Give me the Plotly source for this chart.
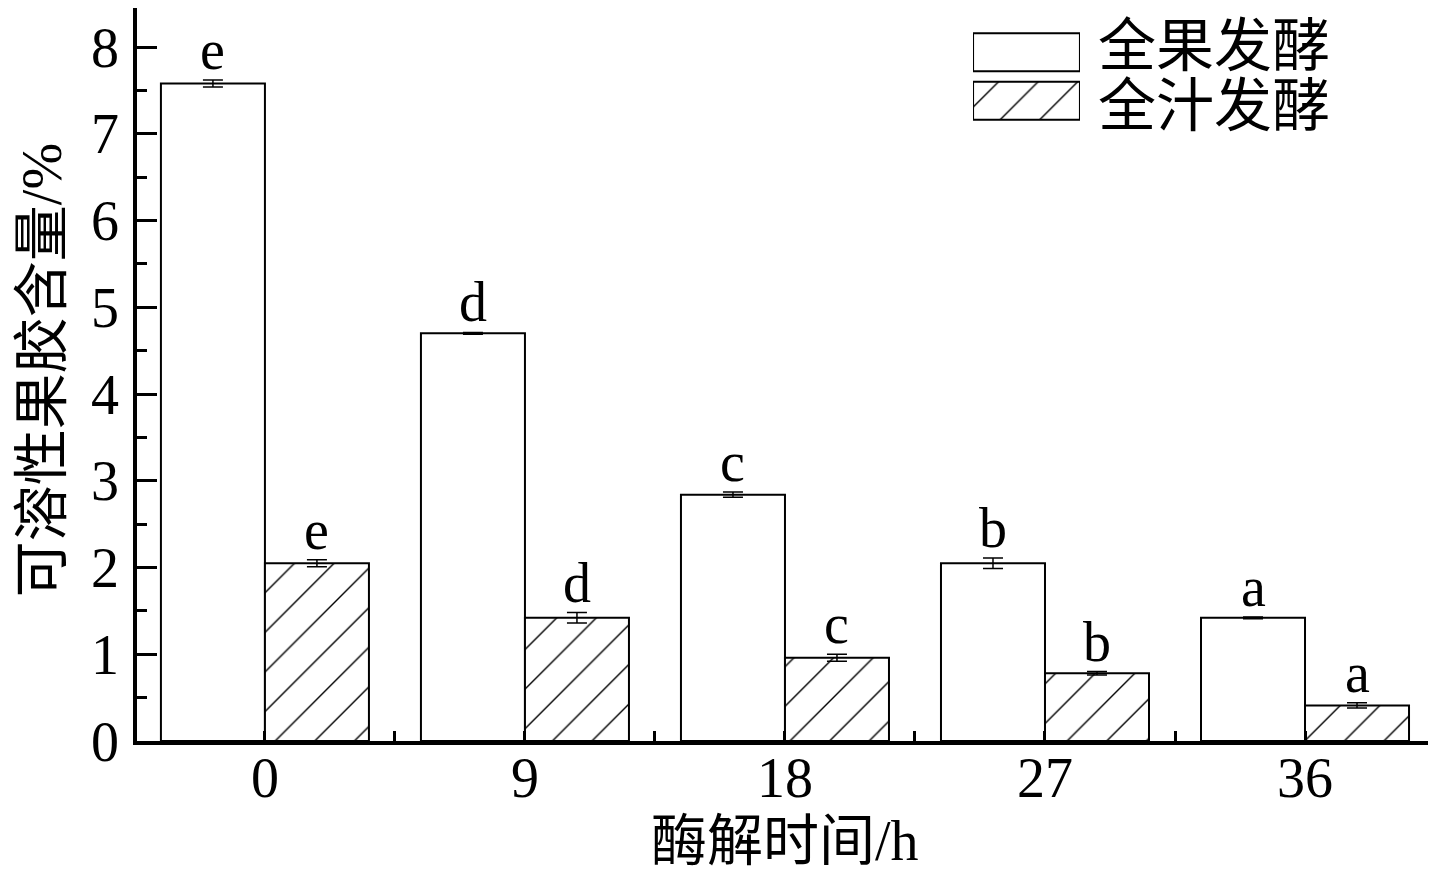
import plotly.graph_objects as go

times = ["0", "9", "18", "27", "36"]
series_names = ["全果发酵", "全汁发酵"]
whole_fruit = [7.58, 4.70, 2.84, 2.05, 1.42]
whole_fruit_err = [0.04, 0.01, 0.03, 0.06, 0.01]
whole_juice = [2.05, 1.42, 0.96, 0.78, 0.41]
whole_juice_err = [0.04, 0.06, 0.04, 0.02, 0.03]
fruit_letters = ["e", "d", "c", "b", "a"]
juice_letters = ["e", "d", "c", "b", "a"]
x_title = "酶解时间/h"
y_title = "可溶性果胶含量/%"

FONT = "Liberation Serif, Noto Sans CJK SC, serif"
idx = list(range(len(times)))
half = 0.2
HATCH = dict(fgcolor="black", bgcolor="white", fgopacity=1, size=28, solidity=0.05)

fig = go.Figure()
fig.add_trace(go.Bar(
    x=idx, y=whole_fruit, name=series_names[0], offsetgroup="a",
    marker=dict(color="white", line=dict(color="black", width=2)),
    error_y=dict(type="data", array=whole_fruit_err, color="black", thickness=1.5, width=10),
    showlegend=False,
))
fig.add_trace(go.Bar(
    x=idx, y=whole_juice, name=series_names[1], offsetgroup="b",
    marker=dict(color="white", line=dict(color="black", width=2),
                pattern=dict(shape="/", **HATCH)),
    error_y=dict(type="data", array=whole_juice_err, color="black", thickness=1.5, width=10),
    showlegend=False,
))
# significance letters just above the error bars
for letters, vals, errs, off in [(fruit_letters, whole_fruit, whole_fruit_err, -half),
                                 (juice_letters, whole_juice, whole_juice_err, half)]:
    for i, (lt, v, e) in enumerate(zip(letters, vals, errs)):
        fig.add_annotation(text=lt, x=i + off, y=v + e, xref="x", yref="y",
                           xanchor="center", yanchor="bottom", yshift=-3, showarrow=False,
                           font=dict(family=FONT, size=56, color="black"))
# legend swatches in an inset axis
fig.add_trace(go.Bar(
    x=[1, 1], y=series_names, orientation="h", xaxis="x2", yaxis="y2", width=0.78,
    marker=dict(color="white", line=dict(color="black", width=2),
                pattern=dict(shape=["", "/"], **HATCH)),
    showlegend=False, hoverinfo="skip",
))
# legend labels
for name, yc in zip(series_names, [0.9468, 0.8663]):
    fig.add_annotation(text=name, xref="paper", yref="paper", x=0.7430, y=yc,
                       xanchor="left", yanchor="middle", showarrow=False,
                       font=dict(family=FONT, size=58, color="black"))
# axis titles
fig.add_annotation(text=x_title, xref="paper", yref="paper", x=0.502, y=-0.1814,
                   xanchor="center", yanchor="bottom", showarrow=False,
                   font=dict(family=FONT, size=56, color="black"))
fig.add_annotation(text=y_title, xref="paper", yref="paper", x=-0.0991, y=0.506,
                   xanchor="left", yanchor="middle", showarrow=False, textangle=-90,
                   font=dict(family=FONT, size=56, color="black"))

fig.update_layout(
    width=1420, height=868,
    margin=dict(l=129, r=0, t=0, b=135),
    paper_bgcolor="white", plot_bgcolor="white",
    barmode="group", bargap=0.2, bargroupgap=0,
    font=dict(family=FONT, color="black", size=54),
    xaxis=dict(
        range=[-0.492, 4.473], tickvals=idx, ticktext=times, automargin=False,
        showline=True, linecolor="black", linewidth=3.5,
        ticks="inside", ticklen=10, tickwidth=3, tickcolor="black",
        minor=dict(tickvals=[i + 0.5 for i in idx[:-1]], ticks="inside", ticklen=10, tickwidth=3, tickcolor="black"),
        tickfont=dict(family=FONT, size=56), showgrid=False, zeroline=False,
        ticklabelstandoff=-15,
    ),
    yaxis=dict(
        range=[0, 8.45], dtick=1, tick0=0, automargin=False,
        showline=True, linecolor="black", linewidth=3.5,
        ticks="inside", ticklen=20, tickwidth=3, tickcolor="black",
        minor=dict(dtick=0.5, ticks="inside", ticklen=10, tickwidth=3, tickcolor="black"),
        tickfont=dict(family=FONT, size=56), showgrid=False, zeroline=False,
        ticklabelstandoff=3,
    ),
    xaxis2=dict(domain=[0.6476, 0.7304], range=[0, 1], anchor="y2", visible=False,
                fixedrange=True, automargin=False),
    yaxis2=dict(domain=[0.8404, 0.9727], anchor="x2", autorange="reversed", visible=False,
                fixedrange=True, automargin=False),
)

fig.write_html("out.html")
